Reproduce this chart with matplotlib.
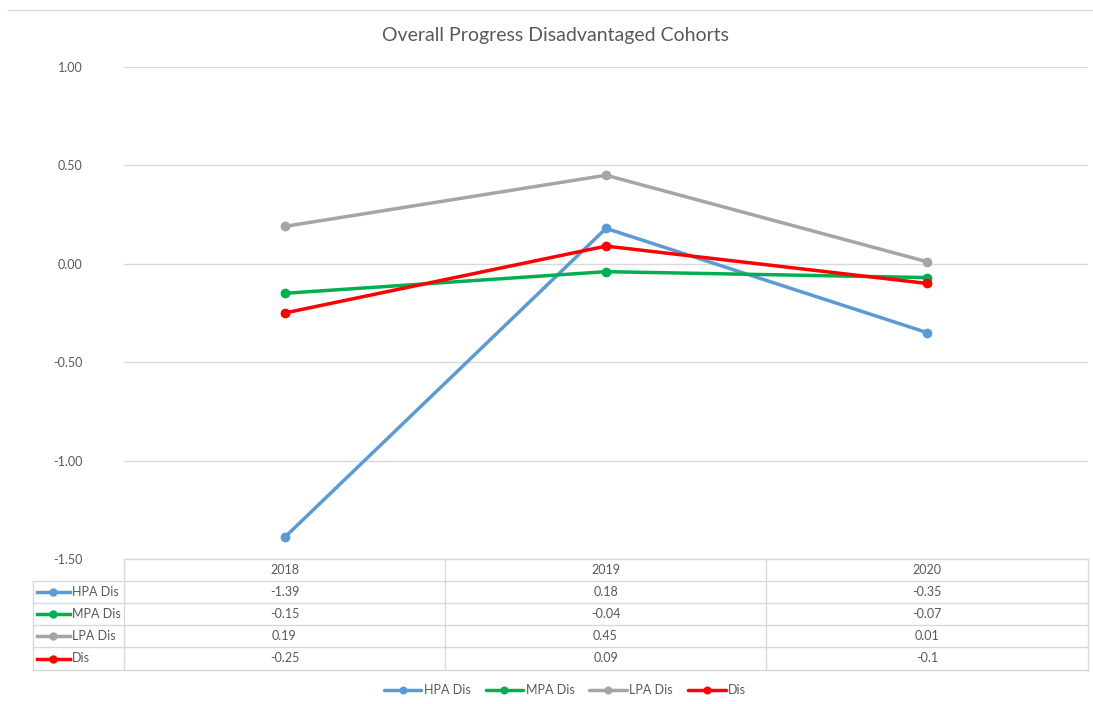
import numpy as np
import matplotlib.pyplot as plt
from matplotlib.lines import Line2D

plt.rcParams['font.family'] = ['Lato', 'DejaVu Sans']

# Data
years = ["2018", "2019", "2020"]
hpa_dis = [-1.39, 0.18, -0.35]
mpa_dis = [-0.15, -0.04, -0.07]
lpa_dis = [0.19, 0.45, 0.01]
dis = [-0.25, 0.09, -0.1]
table_text = {
    "HPA Dis": ["-1.39", "0.18", "-0.35"],
    "MPA Dis": ["-0.15", "-0.04", "-0.07"],
    "LPA Dis": ["0.19", "0.45", "0.01"],
    "Dis": ["-0.25", "0.09", "-0.1"],
}

series = [
    ("HPA Dis", hpa_dis, "#5B9BD5"),
    ("MPA Dis", mpa_dis, "#00B050"),
    ("LPA Dis", lpa_dis, "#A5A5A5"),
    ("Dis", dis, "#FF0000"),
]

W, H = 1093, 704
grid_col = "#D9D9D9"
text_col = "#595959"

fig = plt.figure(figsize=(W / 100, H / 100), dpi=100)

# top border line of chart frame
fig.add_artist(Line2D([8 / W, 1], [1 - 10 / H, 1 - 10 / H], color=grid_col, lw=1))

# main plot area
ax = fig.add_axes([124 / W, 1 - 559 / H, (1088 - 124) / W, (559 - 67) / H])
x = np.arange(len(years))
for name, vals, col in series:
    ax.plot(x, vals, color=col, lw=2.5, marker='o', markersize=6, label=name,
            solid_capstyle='round')
ax.set_xlim(-0.5, 2.5)
ax.set_ylim(-1.5, 1.0)
ax.set_yticks(np.arange(-1.5, 1.01, 0.5))
ax.set_yticklabels([f"{v:.2f}" for v in np.arange(-1.5, 1.01, 0.5)])
ax.set_xticks([])
ax.grid(axis='y', color=grid_col, lw=1)
ax.set_axisbelow(True)
for s in ax.spines.values():
    s.set_visible(False)
ax.tick_params(axis='y', length=0, pad=30, labelsize=9, labelcolor=text_col)

fig.text(556 / W, 1 - 36 / H, "Overall Progress Disadvantaged Cohorts",
         ha='center', va='center', fontsize=14, color=text_col)

# data table below the plot, in pixel coordinates
tab = fig.add_axes([0, 0, 1, 1])
tab.set_xlim(0, W)
tab.set_ylim(H, 0)
tab.axis('off')
tab.patch.set_alpha(0)

col_edges = [124, 445, 766, 1088]
row_edges = [559, 581, 603, 625, 647, 670]
label_left = 33

# horizontal lines
tab.plot([col_edges[0], col_edges[-1]], [row_edges[0]] * 2, color=grid_col, lw=1)
for y in row_edges[1:]:
    tab.plot([label_left, col_edges[-1]], [y, y], color=grid_col, lw=1)
# vertical lines
for xe in col_edges:
    tab.plot([xe, xe], [row_edges[0], row_edges[-1]], color=grid_col, lw=1)
tab.plot([label_left, label_left], [row_edges[1], row_edges[-1]], color=grid_col, lw=1)

# header
for i, yr in enumerate(years):
    cx = (col_edges[i] + col_edges[i + 1]) / 2
    tab.text(cx, (row_edges[0] + row_edges[1]) / 2, yr, ha='center', va='center',
             fontsize=9, color=text_col)

for r, (name, vals, col) in enumerate(series):
    cy = (row_edges[r + 1] + row_edges[r + 2]) / 2
    tab.plot([37, 70], [cy, cy], color=col, lw=2.5)
    tab.plot([53], [cy], color=col, marker='o', markersize=5)
    tab.text(72, cy, name, ha='left', va='center', fontsize=9, color=text_col)
    for i, t in enumerate(table_text[name]):
        cx = (col_edges[i] + col_edges[i + 1]) / 2
        tab.text(cx, cy, t, ha='center', va='center', fontsize=9, color=text_col)

# bottom legend
handles, labels = ax.get_legend_handles_labels()
leg = fig.legend(handles, labels, loc='center', bbox_to_anchor=(565 / W, 1 - 690 / H),
                 ncol=4, frameon=False, fontsize=9, handlelength=3, columnspacing=1.2,
                 handletextpad=0.2, markerscale=0.8)
for t in leg.get_texts():
    t.set_color(text_col)

fig.savefig("out.png", dpi=100)
